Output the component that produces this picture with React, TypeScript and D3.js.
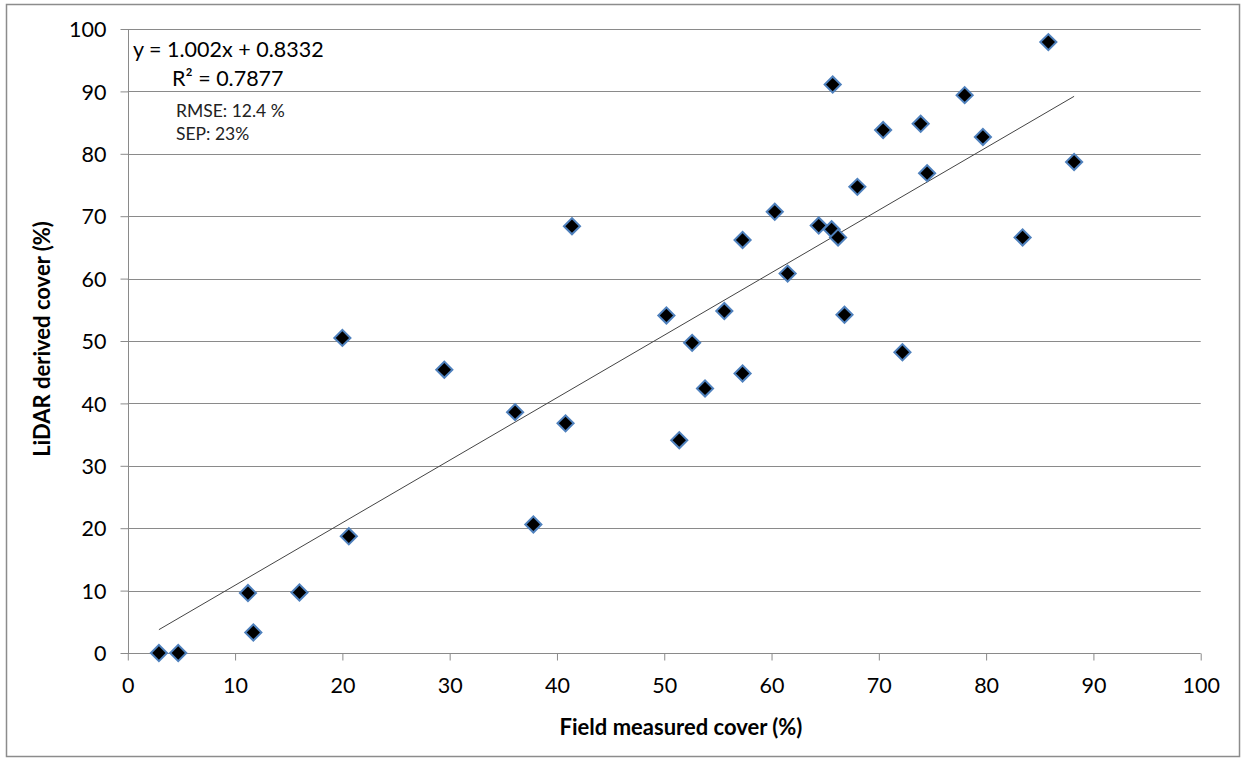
import React, { useEffect, useRef } from 'react';
import * as d3 from 'd3';

// field measured cover (%) vs LiDAR derived cover (%)
const fieldCover = [
  2.9, 4.7, 11.2, 11.7, 16.0, 20.0, 20.6, 29.5, 36.1, 37.8, 40.8, 41.4,
  50.2, 51.4, 52.6, 53.8, 55.6, 57.3, 57.3, 60.3, 61.5, 64.4, 65.7, 65.6,
  66.2, 66.8, 68.0, 70.4, 72.2, 73.9, 74.5, 78.0, 79.7, 83.4, 85.8, 88.2,
];
const lidarCover = [
  0, 0, 9.6, 3.3, 9.7, 50.5, 18.7, 45.4, 38.6, 20.6, 36.8, 68.4,
  54.1, 34.1, 49.7, 42.4, 54.8, 44.8, 66.2, 70.7, 60.8, 68.5, 91.1, 67.9,
  66.6, 54.2, 74.7, 83.8, 48.2, 84.8, 76.9, 89.4, 82.7, 66.6, 97.9, 78.7,
];
const xTicks = [0, 10, 20, 30, 40, 50, 60, 70, 80, 90, 100];
const yTicks = [0, 10, 20, 30, 40, 50, 60, 70, 80, 90, 100];
const slope = 1.002;
const intercept = 0.8332;
const statLines = ['RMSE: 12.4 %', 'SEP: 23%'];

const W = 1242;
const H = 758;
const font = 'Lato, "Open Sans", sans-serif';
const gridColor = '#8a8a8a';

const App = () => {
  const ref = useRef<SVGSVGElement | null>(null);

  useEffect(() => {
    const svg = d3.select(ref.current);
    svg.selectAll('*').remove();

    const x = d3.scaleLinear().domain([0, 100]).range([127.8, 1200.7]);
    const y = d3.scaleLinear().domain([0, 100]).range([653, 29]);

    // outer frame
    svg.append('rect')
      .attr('x', 6.5).attr('y', 4.5)
      .attr('width', 1233).attr('height', 752)
      .attr('fill', '#fff').attr('stroke', '#8c8c8c').attr('stroke-width', 1.5);

    // horizontal gridlines
    svg.append('g')
      .selectAll('line')
      .data(yTicks.filter((d) => d > 0))
      .enter()
      .append('line')
      .attr('x1', x(0)).attr('x2', x(100))
      .attr('y1', (d) => Math.round(y(d)) + 0.5)
      .attr('y2', (d) => Math.round(y(d)) + 0.5)
      .attr('stroke', gridColor).attr('stroke-width', 1);

    // axes
    const xAxis = svg.append('g')
      .attr('transform', `translate(0,${Math.round(y(0)) + 0.5})`)
      .call(d3.axisBottom(x).tickValues(xTicks).tickSize(7).tickPadding(17).tickFormat(d3.format('d')));
    const yAxis = svg.append('g')
      .attr('transform', `translate(${Math.round(x(0)) + 0.5},0)`)
      .call(d3.axisLeft(y).tickValues(yTicks).tickSize(8).tickPadding(14).tickFormat(d3.format('d')));
    [xAxis, yAxis].forEach((g) => {
      g.select('.domain').remove();
      g.selectAll('.tick line').attr('stroke', gridColor);
      g.selectAll('.tick text')
        .attr('fill', '#000')
        .attr('font-family', font)
        .attr('font-size', 21.5);
    });
    xAxis.append('line')
      .attr('x1', x(0)).attr('x2', x(100))
      .attr('stroke', gridColor);
    yAxis.append('line')
      .attr('y1', y(0)).attr('y2', y(100))
      .attr('stroke', gridColor);
    yAxis.selectAll('.tick text').attr('dy', '0.36em');

    // trend line
    const xMin = d3.min(fieldCover) as number;
    const xMax = d3.max(fieldCover) as number;
    const line = d3.line<number>()
      .x((d) => x(d))
      .y((d) => y(slope * d + intercept));
    svg.append('path')
      .attr('d', line([xMin, xMax]))
      .attr('fill', 'none')
      .attr('stroke', '#444')
      .attr('stroke-width', 1);

    // points
    const diamond = d3.symbol().type(d3.symbolSquare).size(130);
    svg.append('g')
      .selectAll('path')
      .data(fieldCover.map((v, i) => [v, lidarCover[i]]))
      .enter()
      .append('path')
      .attr('d', diamond)
      .attr('transform', (d) => `translate(${x(d[0])},${y(d[1])}) rotate(45)`)
      .attr('fill', '#000')
      .attr('stroke', '#4f81bd')
      .attr('stroke-width', 2);

    // equation and stats
    svg.append('text')
      .attr('x', 133).attr('y', 57)
      .attr('font-family', font).attr('font-size', 21.5)
      .text(`y = ${slope}x + ${intercept}`);
    svg.append('text')
      .attr('x', 172).attr('y', 86)
      .attr('font-family', font).attr('font-size', 21.5)
      .text('R² = 0.7877');
    svg.append('g')
      .selectAll('text')
      .data(statLines)
      .enter()
      .append('text')
      .attr('x', 176)
      .attr('y', (d, i) => 117 + i * 23)
      .attr('font-family', font)
      .attr('font-size', 17.5)
      .attr('fill', '#222')
      .text((d) => d);

    // axis titles
    svg.append('text')
      .attr('x', 681).attr('y', 735)
      .attr('text-anchor', 'middle')
      .attr('font-family', font).attr('font-size', 22).attr('font-weight', 'bold')
      .text('Field measured cover (%)');
    svg.append('text')
      .attr('transform', 'translate(50,339) rotate(-90)')
      .attr('text-anchor', 'middle')
      .attr('font-family', font).attr('font-size', 22).attr('font-weight', 'bold')
      .text('LiDAR derived cover (%)');
  }, []);

  return (
    <svg
      ref={ref}
      width={W}
      height={H}
      style={{ position: 'absolute', left: 0, top: 0, background: '#fff' }}
    />
  );
};

export default App;
